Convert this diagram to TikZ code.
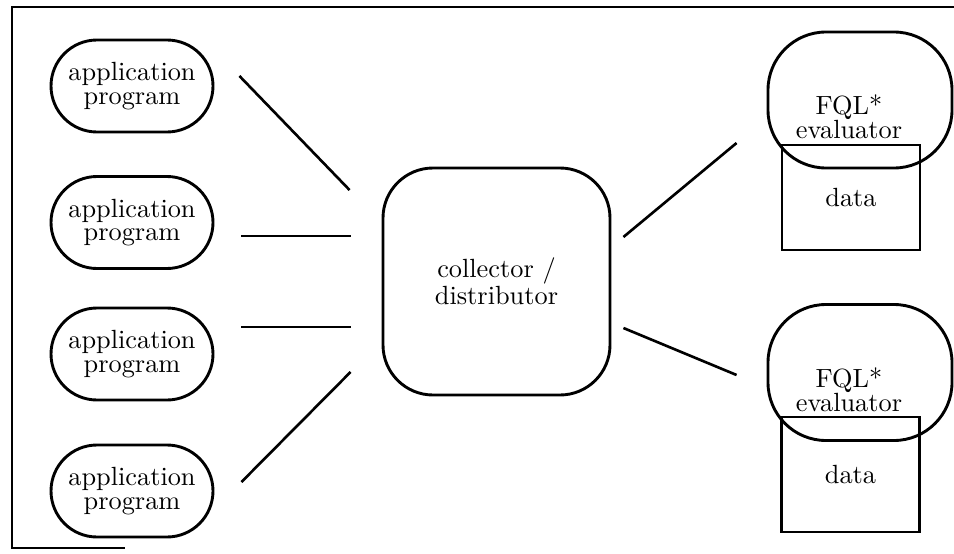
\documentclass[tikz,border=0pt]{standalone}
\usepackage{amsmath}
\usetikzlibrary{calc}

\begin{document}
\begin{tikzpicture}[x=0.38pt, y=0.38pt,
  txt/.style={align=center, font=\fontsize{10}{9}\selectfont},
  appbox/.style={draw, line width=1.1pt, rounded corners=46*0.38pt, txt,
    minimum width=162*0.38pt, minimum height=92*0.38pt},
  collbox/.style={draw, line width=1.1pt, rounded corners=50*0.38pt, txt,
    minimum width=227*0.38pt, minimum height=227*0.38pt},
  evalbox/.style={draw, line width=1.1pt, rounded corners=58*0.38pt,
    minimum width=184*0.38pt, minimum height=136*0.38pt},
  databox/.style={draw, line width=0.8pt, txt, inner sep=0pt,
    minimum width=138*0.38pt},
  link/.style={line width=1pt}]
\def\u{0.38pt}
\useasboundingbox (0, 0) rectangle (954, 553);

% frame
\draw [line width=0.75pt] (954, 546) -- (12, 546) -- (12, 5) -- (125, 5);

% application programs
\node (app1) [appbox] at (132, 467) {application\\program};
\node (app2) [appbox] at (132, 330.5) {application\\program};
\node (app3) [appbox] at (132, 199) {application\\program};
\node (app4) [appbox] at (132, 62) {application\\program};

\node (coll) [collbox] at (496.5, 271.5) {collector /\\distributor};

% evaluators with their data
\node (eval1) [evalbox, label={[txt, xshift=-11*\u, yshift=-17*\u]center:{FQL*\\evaluator}}] at (860, 453) {};
\node (data1) [databox, minimum height=105*\u] at (851, 355.5) {data};
\node (eval2) [evalbox, label={[txt, xshift=-11*\u, yshift=-17*\u]center:{FQL*\\evaluator}}] at (860, 180.5) {};
\node (data2) [databox, minimum height=115*\u] at (850.5, 78.5) {data};

\draw [link] ([shift={(25, 10)}]app1.east) -- ([shift={(-32, 91.5)}]coll.west);
\draw [link] ([shift={(27, -13.5)}]app2.east) -- ([shift={(-31, 45.5)}]coll.west);
\draw [link] ([shift={(27, 27)}]app3.east) -- ([shift={(-31, -45.5)}]coll.west);
\draw [link] ([shift={(27, 9)}]app4.east) -- ([shift={(-31, -90.5)}]coll.west);

\draw [link] ([shift={(12, 44.5)}]coll.east) -- ([shift={(-30, -43)}]eval1.west);
\draw [link] ([shift={(12, -46.5)}]coll.east) -- ([shift={(-30, -2.5)}]eval2.west);

\end{tikzpicture}
\end{document}
